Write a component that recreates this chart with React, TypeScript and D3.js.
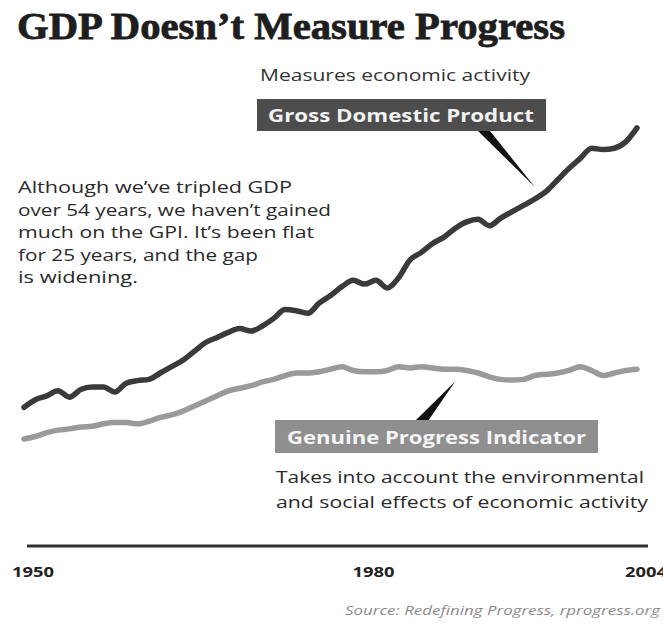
import React from "react";
import * as d3 from "d3";

const years: number[] = d3.range(1950, 2005);

// GDP per capita (thousands)
const gdpValues: number[] = [
  11.0, 11.6, 11.9, 12.3, 11.8, 12.4, 12.6, 12.6, 12.2, 12.9,
  13.1, 13.2, 13.7, 14.2, 14.7, 15.4, 16.1, 16.5, 16.9, 17.2,
  17.0, 17.4, 18.0, 18.7, 18.6, 18.4, 19.2, 19.8, 20.5, 21.0,
  20.7, 21.0, 20.4, 21.2, 22.6, 23.2, 23.9, 24.4, 25.1, 25.6,
  25.8, 25.3, 25.9, 26.4, 26.9, 27.4, 28.0, 28.9, 29.8, 30.6,
  31.4, 31.3, 31.4, 31.9, 33.0,
];

// Genuine Progress Indicator per capita (thousands)
const gpiValues: number[] = [
  8.5, 8.7, 9.0, 9.2, 9.3, 9.45, 9.5, 9.7, 9.8, 9.8,
  9.7, 9.9, 10.2, 10.4, 10.7, 11.1, 11.5, 11.9, 12.3, 12.5,
  12.7, 13.0, 13.2, 13.5, 13.7, 13.7, 13.8, 14.0, 14.2, 13.9,
  13.8, 13.8, 13.9, 14.2, 14.1, 14.2, 14.1, 14.0, 14.0, 13.9,
  13.7, 13.4, 13.2, 13.15, 13.2, 13.5, 13.6, 13.7, 13.9, 14.2,
  13.9, 13.5, 13.7, 13.9, 14.0,
];

const tickYears: number[] = [1950, 1980, 2004];
const tickLabels: string[] = ["1950", "1980", "2004"];

const title = "GDP Doesn\u2019t Measure Progress";
const gdpSubtitle = "Measures economic activity";
const gdpLabel = "Gross Domestic Product";
const gpiLabel = "Genuine Progress Indicator";
const gpiNote: string[] = [
  "Takes into account the environmental",
  "and social effects of economic activity",
];
const annotation: string[] = [
  "Although we\u2019ve tripled GDP",
  "over 54 years, we haven\u2019t gained",
  "much on the GPI. It\u2019s been flat",
  "for 25 years, and the gap",
  "is widening.",
];
const source = "Source: Redefining Progress, rprogress.org";

const W = 663;
const H = 624;
const sans = "'Open Sans', 'Noto Sans', sans-serif";

export default function App() {
  const x = d3.scaleLinear().domain([1950, 2004]).range([24, 637]);
  const y = d3.scaleLinear().domain([0, 35]).range([547, 547 - 35 * 12.7]);

  const line = d3
    .line<number>()
    .x((_, i) => x(years[i]))
    .y((d) => y(d))
    .curve(d3.curveMonotoneX);

  const gdpPath = line(gdpValues) || "";
  const gpiPath = line(gpiValues) || "";

  const gdpTip: [number, number] = [x(1995), y(gdpValues[45]) - 12];
  const gpiTip: [number, number] = [x(1988), y(gpiValues[38]) + 12];

  return (
    <svg
      width={W}
      height={H}
      viewBox={`0 0 ${W} ${H}`}
      style={{ position: "absolute", left: 0, top: 0, background: "#fff" }}
    >
      <rect x={0} y={0} width={W} height={H} fill="#fff" />
      <text
        x={17}
        y={39}
        fontFamily="'Liberation Serif', 'DejaVu Serif', serif"
        fontWeight="bold"
        fontSize={38}
        fill="#1e1e1e"
        stroke="#1e1e1e"
        strokeWidth={0.8}
        textLength={548}
        lengthAdjust="spacingAndGlyphs"
      >
        {title}
      </text>

      <text x={260} y={81} fontFamily={sans} fontSize={16} fill="#333" textLength={270} lengthAdjust="spacingAndGlyphs">
        {gdpSubtitle}
      </text>
      <rect x={257} y={99} width={289} height={32} fill="#4d4d4d" />
      <text
        x={268}
        y={122}
        fontFamily={sans}
        fontWeight="bold"
        fontSize={18}
        fill="#f2f2f2"
        textLength={266}
        lengthAdjust="spacingAndGlyphs"
      >
        {gdpLabel}
      </text>
      <path d={`M${478},${131} L${490},${131} L${gdpTip[0]},${gdpTip[1]} Z`} fill="#111" />

      {annotation.map((t, i) => (
        <text
          key={i}
          x={18}
          y={193 + i * 22.5}
          fontFamily={sans}
          fontSize={16.5}
          fill="#2a2a2a"
          textLength={[274, 313, 296, 240, 120][i]}
          lengthAdjust="spacingAndGlyphs"
        >
          {t}
        </text>
      ))}

      <path d={gpiPath} fill="none" stroke="#9a9a9a" strokeWidth={5.5} strokeLinejoin="round" strokeLinecap="round" />
      <path d={gdpPath} fill="none" stroke="#3a3a3a" strokeWidth={5.5} strokeLinejoin="round" strokeLinecap="round" />

      <path d={`M${415},${421} L${428},${421} L${gpiTip[0]},${gpiTip[1]} Z`} fill="#111" />
      <rect x={275} y={420} width={323} height={33} fill="#8f8f8f" />
      <text
        x={287}
        y={444}
        fontFamily={sans}
        fontWeight="bold"
        fontSize={18.5}
        fill="#f4f4f4"
        textLength={299}
        lengthAdjust="spacingAndGlyphs"
      >
        {gpiLabel}
      </text>
      {gpiNote.map((t, i) => (
        <text
          key={i}
          x={276}
          y={483 + i * 25}
          fontFamily={sans}
          fontSize={16.5}
          fill="#2a2a2a"
          textLength={[368, 372][i]}
          lengthAdjust="spacingAndGlyphs"
        >
          {t}
        </text>
      ))}

      <line x1={27} x2={648} y1={546} y2={546} stroke="#333" strokeWidth={3} />
      {tickYears.map((yr, i) => (
        <text
          key={yr}
          x={x(yr) + 9}
          y={577}
          textAnchor="middle"
          fontFamily={sans}
          fontWeight="bold"
          fontSize={15}
          fill="#222"
          textLength={42}
          lengthAdjust="spacingAndGlyphs"
        >
          {tickLabels[i]}
        </text>
      ))}

      <text
        x={660}
        y={615}
        textAnchor="end"
        fontFamily={sans}
        fontStyle="italic"
        fontSize={13}
        fill="#8a8a8a"
        textLength={315}
        lengthAdjust="spacingAndGlyphs"
      >
        {source}
      </text>
    </svg>
  );
}
